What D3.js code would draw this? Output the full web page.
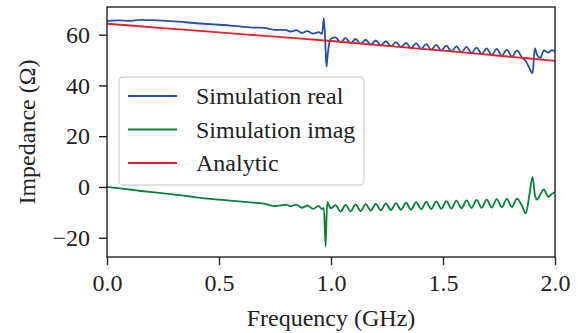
<!DOCTYPE html>
<html>
<head>
<meta charset="utf-8">
<script src="https://cdn.jsdelivr.net/npm/d3@7"></script>
<style>
	body { margin: 0; background: #fff; }
	text { font-family: "Liberation Serif", "DejaVu Serif", serif; fill: #222; }
</style>
</head>
<body>
<div id="chart"></div>
<script>
// frequency grid of the simulation (GHz)
const freq = [
	0, 0.05, 0.1, 0.15, 0.2, 0.25, 0.3, 0.35, 0.4, 0.45, 0.5, 0.55, 0.6, 0.65, 0.7, 0.75, 0.8,
	0.82, 0.845, 0.87, 0.895, 0.92, 0.945,
	0.96, 0.968, 0.976, 0.98, 0.984, 0.992, 1.0,
	1.02, 1.0425, 1.065, 1.0875, 1.11, 1.1325, 1.155, 1.1775, 1.2, 1.2225,
	1.245, 1.2675, 1.29, 1.3125, 1.335, 1.3575, 1.38, 1.4025, 1.425, 1.4475,
	1.47, 1.4925, 1.515, 1.5375, 1.56, 1.5825, 1.605, 1.6275, 1.65, 1.6725,
	1.695, 1.7175, 1.74, 1.7625, 1.785, 1.8075, 1.83, 1.8525,
	1.87, 1.885, 1.9, 1.91, 1.92, 1.935, 1.95, 1.97, 1.985, 2.0
];

const simReal = [
	65.4, 65.6, 65.4, 65.8, 65.7, 65.5, 65.2, 64.9, 64.5, 64.2, 63.9, 63.6, 63.2, 62.8, 62.7, 61.9, 61.8,
	61.2, 61.8, 60.7, 61.4, 60.4, 61.0,
	60.3, 66.5, 54.0, 47.4, 51.0, 56.5, 58.4,
	58.9, 57.0, 58.6, 56.7, 58.3, 56.4, 58.0, 56.0, 57.7, 55.7,
	57.4, 55.4, 57.1, 55.1, 56.8, 54.7, 56.6, 54.4, 56.3, 54.1,
	56.0, 53.7, 55.7, 53.4, 55.4, 53.0, 55.2, 52.7, 54.9, 52.4,
	54.6, 52.0, 54.4, 51.7, 54.1, 51.3, 53.8, 51.0,
	49.5, 47.0, 44.8, 54.6, 52.0, 50.9, 53.8, 52.9, 53.9, 53.5
];

const simImag = [
	0.0, -0.5, -1.0, -1.6, -2.0, -2.5, -3.0, -3.5, -4.1, -4.6, -5.0, -5.4, -5.8, -6.2, -6.6, -7.6, -7.0,
	-7.6, -7.0, -8.2, -7.3, -8.6, -7.5,
	-8.7, -8.3, -23.4, -12.0, -5.9, -7.4, -8.4,
	-7.2, -9.7, -7.1, -9.6, -6.9, -9.5, -6.8, -9.3, -6.7, -9.2,
	-6.5, -9.1, -6.4, -9.0, -6.2, -8.9, -6.0, -8.8, -5.9, -8.7,
	-5.7, -8.6, -5.6, -8.5, -5.4, -8.4, -5.3, -8.3, -5.1, -8.2,
	-5.0, -8.1, -4.8, -8.0, -4.7, -7.9, -4.6, -7.4,
	-10.4, -3.5, 4.0, -3.0, -5.0, -2.8, -1.0, -3.9, -2.8, -2.0
];

const analyticFreq = [0, 0.25, 0.5, 0.75, 1.0, 1.25, 1.5, 1.75, 2.0];
const analytic = [64.3, 62.6, 60.9, 59.2, 57.5, 55.6, 53.7, 51.7, 49.7];

const xTicks = [0, 0.5, 1.0, 1.5, 2.0];
const yTicks = [-20, 0, 20, 40, 60];

const legendLabels = ["Simulation real", "Simulation imag", "Analytic"];
const colors = ["#2851a8", "#0b7f3c", "#e8212b"];

const
	width = 579,
	height = 333,
	margin = { top: 7, right: 24, bottom: 76, left: 107 },
	fontSize = 24;

const svg = d3.select("#chart")
	.append("svg")
	.attr("width", width)
	.attr("height", height);

const x = d3.scaleLinear()
	.domain([0, 2.0])
	.range([margin.left, width - margin.right]);

const y = d3.scaleLinear()
	.domain([-27.6, 70.9])
	.range([height - margin.bottom, margin.top]);

svg.append("clipPath")
	.attr("id", "plot-clip")
	.append("rect")
	.attr("x", margin.left)
	.attr("y", margin.top)
	.attr("width", x.range()[1] - margin.left)
	.attr("height", y.range()[0] - margin.top);

const line = d3.line()
	.x(d => x(d[0]))
	.y(d => y(d[1]))
	.curve(d3.curveMonotoneX);

const series = [
	d3.zip(freq, simReal),
	d3.zip(freq, simImag),
	d3.zip(analyticFreq, analytic)
];

const plot = svg.append("g").attr("clip-path", "url(#plot-clip)");

series.forEach((data, i) => {
	plot.append("path")
		.datum(data)
		.attr("d", line)
		.attr("fill", "none")
		.attr("stroke", colors[i])
		.attr("stroke-width", 1.8)
		.attr("stroke-linejoin", "round");
});

// axes
const xAxis = svg.append("g")
	.attr("transform", `translate(0, ${y.range()[0]})`)
	.call(d3.axisBottom(x).tickValues(xTicks).tickFormat(d3.format(".1f")).tickSize(8).tickPadding(9));

const yAxis = svg.append("g")
	.attr("transform", `translate(${margin.left}, 0)`)
	.call(d3.axisLeft(y).tickValues(yTicks).tickFormat(d3.format("d")).tickSize(8).tickPadding(9));

[xAxis, yAxis].forEach(g => {
	g.select(".domain").remove();
	g.selectAll(".tick line").attr("stroke", "#222").attr("stroke-width", 1.4);
	g.selectAll(".tick text")
		.style("font-size", fontSize + "px")
		.style("font-family", "'Liberation Serif', serif")
		.attr("fill", "#222");
});

// frame
svg.append("rect")
	.attr("x", margin.left)
	.attr("y", margin.top)
	.attr("width", x.range()[1] - margin.left)
	.attr("height", y.range()[0] - margin.top)
	.attr("fill", "none")
	.attr("stroke", "#222")
	.attr("stroke-width", 1.4);

// axis titles
svg.append("text")
	.attr("x", (x.range()[0] + x.range()[1]) / 2)
	.attr("y", 326)
	.attr("text-anchor", "middle")
	.style("font-size", fontSize + "px")
	.text("Frequency (GHz)");

svg.append("text")
	.attr("transform", `translate(35, ${(y.range()[0] + y.range()[1]) / 2}) rotate(-90)`)
	.attr("text-anchor", "middle")
	.style("font-size", fontSize + "px")
	.text("Impedance (Ω)");

// legend
const legend = svg.append("g");

legend.append("rect")
	.attr("x", 119)
	.attr("y", 77)
	.attr("width", 245)
	.attr("height", 108)
	.attr("rx", 4)
	.attr("fill", "white")
	.attr("fill-opacity", 0.8)
	.attr("stroke", "#d6d6d6")
	.attr("stroke-width", 1.3);

legendLabels.forEach((label, i) => {
	const ly = 96 + i * 33.5;
	legend.append("line")
		.attr("x1", 128)
		.attr("x2", 177)
		.attr("y1", ly)
		.attr("y2", ly)
		.attr("stroke", colors[i])
		.attr("stroke-width", 1.8);
	legend.append("text")
		.attr("x", 196)
		.attr("y", ly + 8)
		.style("font-size", fontSize + "px")
		.text(label);
});
</script>
</body>
</html>
